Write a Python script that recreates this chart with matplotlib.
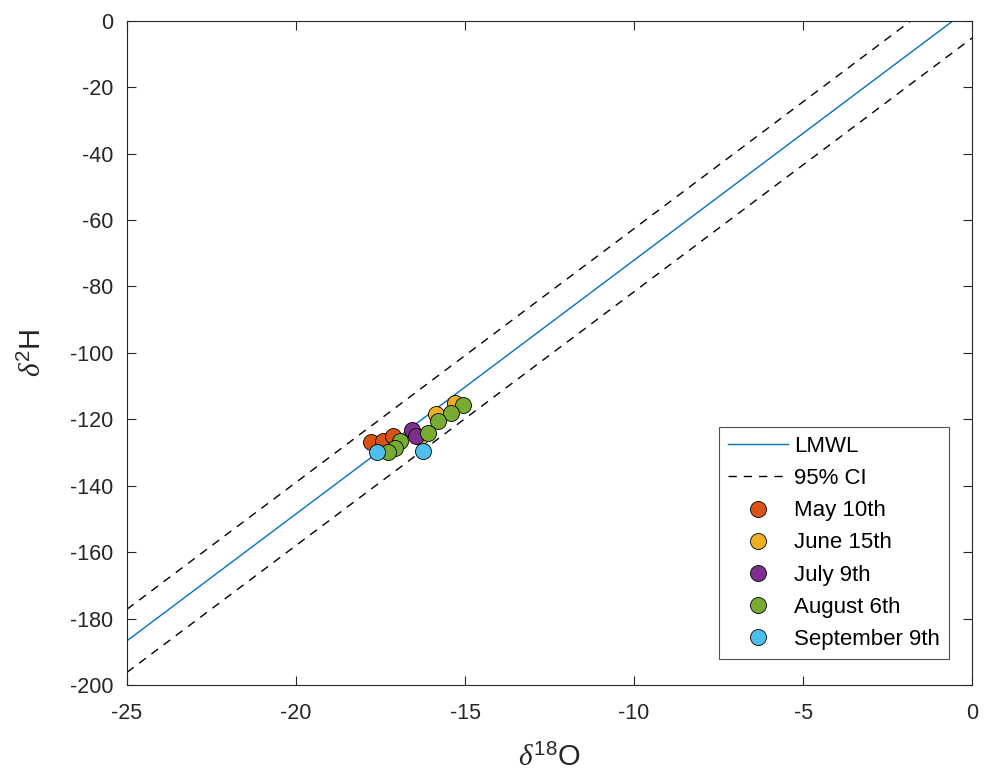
import numpy as np
import matplotlib
matplotlib.use("Agg")
import matplotlib.pyplot as plt

plt.rcParams['font.family'] = ['Liberation Sans', 'DejaVu Sans']
plt.rcParams['mathtext.fontset'] = 'custom'
plt.rcParams['mathtext.rm'] = 'Liberation Sans'
plt.rcParams['mathtext.it'] = 'Liberation Serif:italic'
plt.rcParams['mathtext.sf'] = 'Liberation Sans'

# LMWL and 95% CI (slope, intercepts)
lmwl_slope = 7.64
lmwl_intercept = 4.3
ci_upper_intercept = 13.8
ci_lower_intercept = -5.2
x_line = [-25.0, 0.0]

series_names = ["May 10th", "June 15th", "July 9th", "August 6th", "September 9th"]
series_colors = ["#D95319", "#EDB120", "#7E2F8E", "#77AC30", "#4DBEEE"]

may_o18 = [-17.78, -17.43, -17.13]
may_h2 = [-126.7, -126.4, -124.9]

june_o18 = [-15.30, -15.86, -16.33]
june_h2 = [-115.0, -118.3, -125.2]

july_o18 = [-16.57, -16.45]
july_h2 = [-123.1, -125.0]

aug_o18 = [-15.06, -15.41, -15.80, -16.09, -16.92, -17.07, -17.28]
aug_h2 = [-115.6, -118.0, -120.4, -124.0, -126.4, -128.8, -130.0]

sep_o18 = [-17.60, -16.24]
sep_h2 = [-130.0, -129.7]

xs = [may_o18, june_o18, july_o18, aug_o18, sep_o18]
ys = [may_h2, june_h2, july_h2, aug_h2, sep_h2]

fig = plt.figure(figsize=(9.84, 7.77), dpi=100)
ax = fig.add_axes([0.129, 0.1184, 0.859, 0.855])

xl = np.array(x_line)
ax.plot(xl, lmwl_slope * xl + lmwl_intercept, color="#0072BD", lw=1.0, label="LMWL")
ax.plot(xl, lmwl_slope * xl + ci_upper_intercept, color="black", lw=1.0,
        ls=(0, (6, 5)), label="95% CI")
ax.plot(xl, lmwl_slope * xl + ci_lower_intercept, color="black", lw=1.0,
        ls=(0, (6, 5)))

for name, col, x, y in zip(series_names, series_colors, xs, ys):
    ax.plot(x, y, ls="none", marker="o", markersize=11.5, markerfacecolor=col,
            markeredgecolor="black", markeredgewidth=0.6, label=name)

ax.set_xlim(-25, 0)
ax.set_ylim(-200, 0)
ax.set_xticks([-25, -20, -15, -10, -5, 0])
ax.set_xticklabels(["-25", "-20", "-15", "-10", "-5", "0"])
ax.set_yticks(np.arange(-200, 1, 20))
ax.set_yticklabels([str(v) for v in range(-200, 1, 20)])

ax.tick_params(direction="in", top=True, right=True, length=6.5, width=0.8,
               labelsize=15.5, colors="#262626")
ax.tick_params(axis="x", pad=13)
ax.tick_params(axis="y", pad=10)
for sp in ax.spines.values():
    sp.set_color("#262626")
    sp.set_linewidth(0.8)

ax.set_xlabel(r"$\delta^{18}\mathrm{O}$", fontsize=21, color="#262626", labelpad=14)
ax.set_ylabel(r"$\delta^{2}\mathrm{H}$", fontsize=21, color="#262626", labelpad=16)

leg = ax.legend(loc="lower right", bbox_to_anchor=(0.9728, 0.039), fontsize=16,
                frameon=True, fancybox=False, edgecolor="#262626",
                borderaxespad=0, handlelength=2.7, handletextpad=0.25,
                labelspacing=0.5, borderpad=0.42)
leg.get_frame().set_linewidth(0.8)

fig.savefig("out.png", dpi=100)
